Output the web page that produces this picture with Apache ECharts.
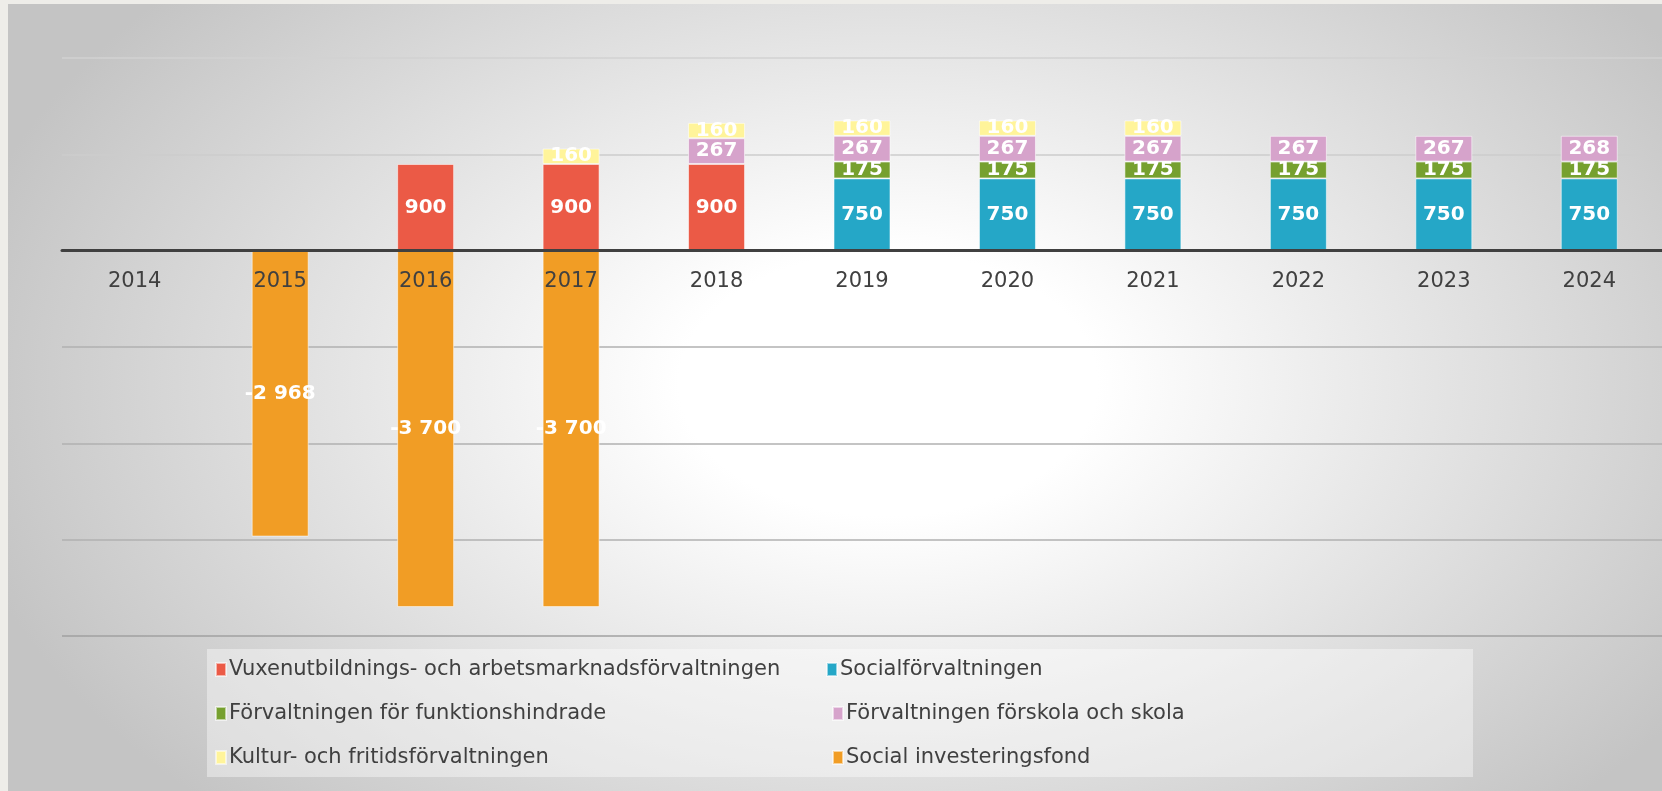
<!DOCTYPE html>
<html>
<head>
<meta charset="utf-8">
<script src="https://cdn.jsdelivr.net/npm/echarts@6/dist/echarts.min.js"></script>
<style>
    html, body { margin: 0; padding: 0; }
    #wrap { position: relative; width: 1662px; height: 791px; background: #eeede9; overflow: hidden; }
    #bg {
        position: absolute; left: 8px; top: 4px; right: 0; bottom: 0;
        background: radial-gradient(ellipse 950px 600px at 880px 380px, #ffffff 0%, #ffffff 22%, #c4c4c4 100%);
    }
    #chart { position: absolute; left: 0; top: 0; width: 1662px; height: 791px; }
</style>
</head>
<body>
<div id="wrap">
    <div id="bg"></div>
    <div id="chart"></div>
</div>
<script>
// kategorier (år)
var years = ['2014', '2015', '2016', '2017', '2018', '2019', '2020', '2021', '2022', '2023', '2024'];

// värden per förvaltning
var vuxData = [null, null, 900, 900, 900, null, null, null, null, null, null];
var socialData = [null, null, null, null, null, 750, 750, 750, 750, 750, 750];
var funkData = [null, null, null, null, null, 175, 175, 175, 175, 175, 175];
var skolaData = [null, null, null, null, 267, 267, 267, 267, 267, 267, 268];
var kulturData = [null, null, null, 160, 160, 160, 160, 160, null, null, null];
var fondData = [null, -2968, -3700, -3700, null, null, null, null, null, null, null];

var names = [
    'Vuxenutbildnings- och arbetsmarknadsförvaltningen',
    'Socialförvaltningen',
    'Förvaltningen för funktionshindrade',
    'Förvaltningen förskola och skola',
    'Kultur- och fritidsförvaltningen',
    'Social investeringsfond'
];
var colors = ['#EB5A46', '#25A7C7', '#76A02F', '#D6A3CB', '#FFF49A', '#F19D25'];
var values = [vuxData, socialData, funkData, skolaData, kulturData, fondData];

var fmt = function (v) {
    return String(v).replace(/\B(?=(\d{3})+(?!\d))/g, ' ');
};

var font = 'DejaVu Sans';

var dom = document.getElementById('chart');
var myChart = echarts.init(dom, null, { renderer: 'canvas' });

var series = [];
names.forEach(function (name, i) {
    series.push({
        name: name,
        type: 'bar',
        stack: 'total',
        barWidth: 57,
        data: values[i],
        itemStyle: {
            color: colors[i],
            borderColor: 'rgba(255,255,255,0.55)',
            borderWidth: 1
        },
        label: {
            show: true,
            position: 'inside',
            color: '#ffffff',
            fontFamily: font,
            fontWeight: 'bold',
            fontSize: 20,
            formatter: function (p) { return fmt(p.value); }
        }
    });
});

// legend: två kolumner, tre rader
var legendLeft = [[215, 826], [215, 832], [215, 832]];
var legendRowY = [671, 715, 759];
var legends = [];
names.forEach(function (name, i) {
    var row = Math.floor(i / 2), col = i % 2;
    legends.push({
        data: [name],
        icon: 'rect',
        left: legendLeft[row][col],
        top: legendRowY[row] - 12,
        itemWidth: 10,
        itemHeight: 13,
        itemGap: 4,
        padding: 0,
        selectedMode: false,
        textStyle: { color: '#404040', fontSize: 21, fontFamily: font, padding: [0, 0, 0, -2] }
    });
});

// grid: 0-linjen ligger 2/6 ner i plotytan
var gridTop = 58, gridHeight = 578;
var zeroOffset = gridHeight * 4 / 6;

var option = {
    animation: false,
    backgroundColor: 'transparent',
    legend: legends,
    graphic: [{
        type: 'rect',
        shape: { x: 207, y: 649, width: 1266, height: 128 },
        style: { fill: 'rgba(255,255,255,0.4)' },
        z: -10
    }],
    grid: { left: 62, width: 1608, top: gridTop, height: gridHeight },
    xAxis: {
        type: 'category',
        data: years,
        z: 5,
        offset: -zeroOffset,
        axisLine: { onZero: false, lineStyle: { color: '#404040', width: 3 } },
        axisTick: { show: false },
        axisLabel: { color: '#404040', fontSize: 21, fontFamily: font, margin: 20 }
    },
    yAxis: {
        type: 'value',
        min: -4000,
        max: 2000,
        interval: 1000,
        axisLabel: { show: false },
        axisLine: { show: false },
        axisTick: { show: false },
        splitLine: {
            lineStyle: {
                width: 1.5,
                color: ['#a0a0a0', '#b0b0b0', '#b0b0b0', '#b0b0b0', '#404040', '#cccccc', '#d2d2d2']
            }
        }
    },
    series: series
};
myChart.setOption(option);
</script>
</body>
</html>
